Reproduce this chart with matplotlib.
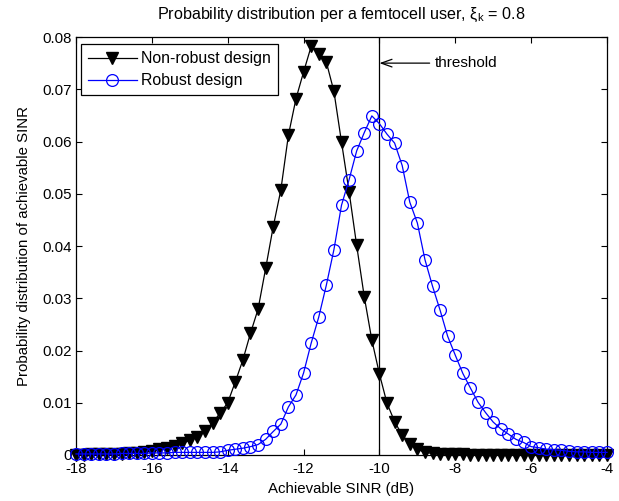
import matplotlib
matplotlib.use("Agg")
import matplotlib.pyplot as plt

plt.rcParams['font.family'] = ['Liberation Sans', 'DejaVu Sans']
plt.rcParams['mathtext.fontset'] = 'custom'
plt.rcParams['mathtext.rm'] = 'Liberation Sans'
plt.rcParams['mathtext.it'] = 'Liberation Sans:italic'

sinr_db = [-18.0, -17.8, -17.6, -17.4, -17.2, -17.0, -16.8, -16.6, -16.4, -16.2,
           -16.0, -15.8, -15.6, -15.4, -15.2, -15.0, -14.8, -14.6, -14.4, -14.2,
           -14.0, -13.8, -13.6, -13.4, -13.2, -13.0, -12.8, -12.6, -12.4, -12.2,
           -12.0, -11.8, -11.6, -11.4, -11.2, -11.0, -10.8, -10.6, -10.4, -10.2,
           -10.0, -9.8, -9.6, -9.4, -9.2, -9.0, -8.8, -8.6, -8.4, -8.2,
           -8.0, -7.8, -7.6, -7.4, -7.2, -7.0, -6.8, -6.6, -6.4, -6.2,
           -6.0, -5.8, -5.6, -5.4, -5.2, -5.0, -4.8, -4.6, -4.4, -4.2, -4.0]

non_robust = [0.0000, 0.0000, 0.0001, 0.0001, 0.0001, 0.0002, 0.0002, 0.0003, 0.0004, 0.0005,
              0.0008, 0.0011, 0.0014, 0.0018, 0.0023, 0.0028, 0.0035, 0.0045, 0.0062, 0.0080,
              0.0100, 0.0140, 0.0182, 0.0233, 0.0279, 0.0357, 0.0437, 0.0507, 0.0612, 0.0682,
              0.0733, 0.0782, 0.0768, 0.0752, 0.0696, 0.0599, 0.0504, 0.0401, 0.0303, 0.0220,
              0.0155, 0.0099, 0.0064, 0.0038, 0.0022, 0.0011, 0.0005, 0.0003, 0.0002, 0.0001,
              0.0001, 0.0001, 0.0000, 0.0000, 0.0000, 0.0000, 0.0000, 0.0000, 0.0000, 0.0000,
              0.0000, 0.0000, 0.0000, 0.0000, 0.0000, 0.0000, 0.0000, 0.0000, 0.0000, 0.0000, 0.0000]

robust = [0.0002, 0.0002, 0.0002, 0.0002, 0.0002, 0.0002, 0.0003, 0.0003, 0.0003, 0.0003,
          0.0004, 0.0004, 0.0004, 0.0005, 0.0005, 0.0005, 0.0005, 0.0005, 0.0005, 0.0006,
          0.0009, 0.0011, 0.0013, 0.0016, 0.0020, 0.0030, 0.0045, 0.0059, 0.0092, 0.0115,
          0.0157, 0.0214, 0.0264, 0.0325, 0.0393, 0.0478, 0.0527, 0.0582, 0.0617, 0.0649,
          0.0634, 0.0614, 0.0597, 0.0554, 0.0484, 0.0444, 0.0374, 0.0323, 0.0277, 0.0227,
          0.0191, 0.0156, 0.0128, 0.0101, 0.0081, 0.0063, 0.0050, 0.0040, 0.0030, 0.0024,
          0.0016, 0.0014, 0.0011, 0.0010, 0.0009, 0.0007, 0.0006, 0.0006, 0.0005, 0.0005, 0.0005]

threshold_db = -10
x_ticks = [-18, -16, -14, -12, -10, -8, -6, -4]
y_ticks = [0, 0.01, 0.02, 0.03, 0.04, 0.05, 0.06, 0.07, 0.08]
y_tick_labels = ['0', '0.01', '0.02', '0.03', '0.04', '0.05', '0.06', '0.07', '0.08']

fig = plt.figure(figsize=(6.19, 5.01), dpi=100)
ax = fig.add_axes([76/619, 1 - 455/501, (607 - 76)/619, (455 - 37)/501])

ax.plot(sinr_db, non_robust, color='black', lw=0.9, marker='v', markersize=9,
        markerfacecolor='black', markeredgecolor='black', clip_on=False, zorder=3,
        label='Non-robust design')
ax.plot(sinr_db, robust, color='#0000ff', lw=0.9, marker='o', markersize=8.5,
        markerfacecolor='none', markeredgecolor='#0000ff', markeredgewidth=0.9,
        clip_on=False, zorder=4, label='Robust design')
ax.axvline(threshold_db, color='black', lw=0.9, zorder=2)

ax.annotate('threshold', xy=(threshold_db, 0.0750), xytext=(-8.53, 0.0750),
            fontsize=11, va='center', ha='left',
            arrowprops=dict(arrowstyle='->,head_length=0.7,head_width=0.25',
                            color='black', lw=0.9, shrinkA=2, shrinkB=0))

ax.set_xlim(-18, -4)
ax.set_ylim(0, 0.08)
ax.set_xticks(x_ticks)
ax.set_xticklabels([str(t) for t in x_ticks])
ax.set_yticks(y_ticks)
ax.set_yticklabels(y_tick_labels)
ax.tick_params(direction='in', top=True, right=True, length=4, width=0.8,
               labelsize=10.8)
ax.tick_params(axis='x', pad=5)
ax.tick_params(axis='y', pad=3)
for s in ax.spines.values():
    s.set_linewidth(0.9)

ax.set_xlabel('Achievable SINR (dB)', fontsize=10.8, labelpad=4)
ax.set_ylabel('Probability distribution of achievable SINR', fontsize=10.8, labelpad=8)
ax.set_title('Probability distribution per a femtocell user, ξ$_{\\rm k}$ = 0.8',
             fontsize=11.6, pad=13)

leg = ax.legend(loc='upper left', bbox_to_anchor=(0.009, 0.983), fontsize=11.4,
                frameon=True, fancybox=False, framealpha=1, edgecolor='black',
                handlelength=3.1, handletextpad=0.25, borderpad=0.45,
                labelspacing=0.45, borderaxespad=0)
leg.get_frame().set_linewidth(0.9)

fig.savefig('out.png', dpi=100)
